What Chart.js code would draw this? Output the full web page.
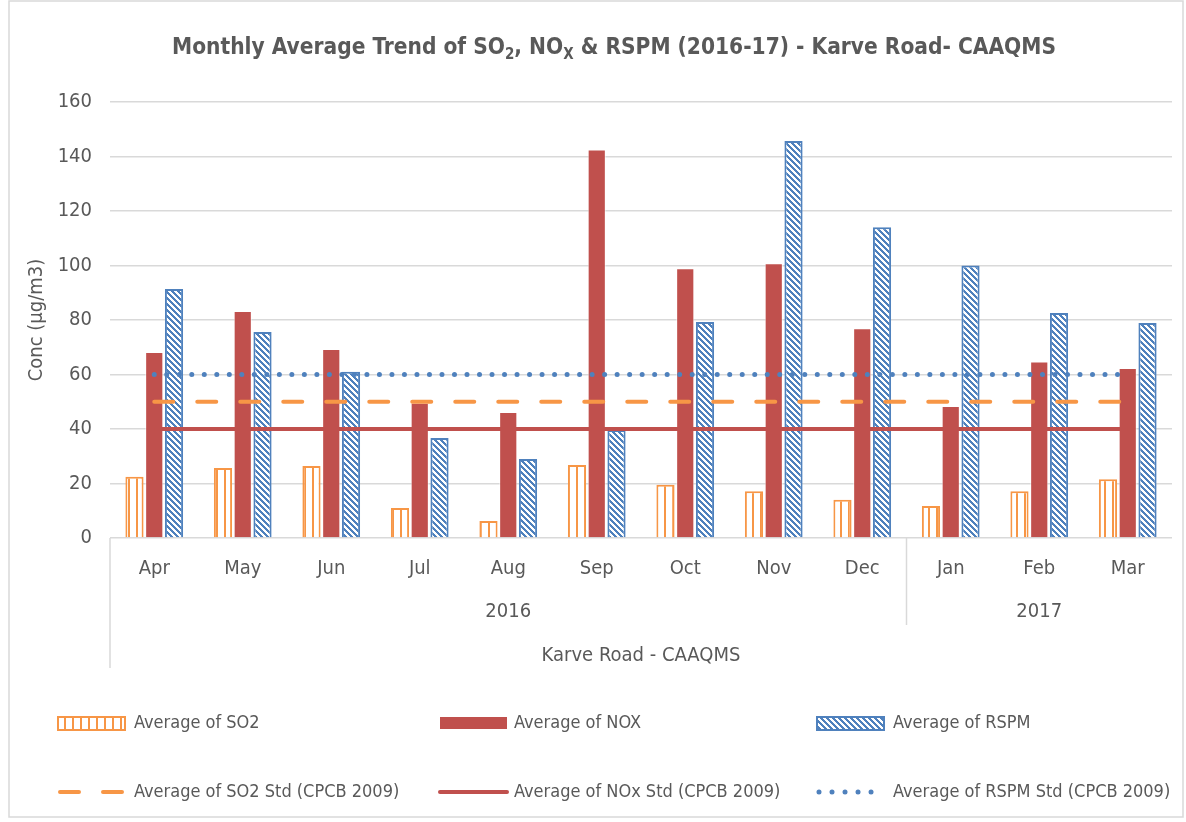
<!DOCTYPE html>
<html lang="en">
<head>
<meta charset="UTF-8">
<title>Monthly Average Trend - Karve Road CAAQMS</title>
<script src="https://cdn.jsdelivr.net/npm/chart.js"></script>
<style>
    body { margin: 0; background: #fff; }
    #chart { display: block; }
</style>
</head>
<body>
<canvas id="chart" width="1186" height="822"></canvas>
<script>
    // monthly averages, µg/m3
    const months = ['Apr', 'May', 'Jun', 'Jul', 'Aug', 'Sep', 'Oct', 'Nov', 'Dec', 'Jan', 'Feb', 'Mar'];
    const yearLabels = ['2016', '2017'];
    const yearSpans = [9, 3];
    const stationLabel = 'Karve Road - CAAQMS';

    const so2 = [22.5, 25.7, 26.4, 11, 6.2, 26.8, 19.5, 17.2, 14, 11.7, 17.2, 21.6];
    const nox = [68.3, 83.3, 69.4, 49.6, 46.2, 142.6, 99, 100.8, 77, 48.4, 64.8, 62.4];
    const rspm = [91.4, 75.6, 61, 36.7, 29, 39.6, 79.3, 145.7, 114, 100, 82.6, 78.9];

    // CPCB 2009 standards
    const so2Std = [50, 50, 50, 50, 50, 50, 50, 50, 50, 50, 50, 50];
    const noxStd = [40, 40, 40, 40, 40, 40, 40, 40, 40, 40, 40, 40];
    const rspmStd = [60, 60, 60, 60, 60, 60, 60, 60, 60, 60, 60, 60];

    const yTicks = [0, 20, 40, 60, 80, 100, 120, 140, 160];

    const ORANGE = '#f79646';
    const RED = '#c0504d';
    const BLUE = '#4f81bd';
    const TEXT = '#595959';
    const GRID = '#d9d9d9';
    const FONT = '"Liberation Sans Narrow", "DejaVu Sans Condensed", "Arial Narrow", sans-serif';

    // vertical stripes for SO2
    function stripePattern() {
        const c = document.createElement('canvas');
        c.width = 8; c.height = 8;
        const g = c.getContext('2d');
        g.fillStyle = '#fff';
        g.fillRect(0, 0, 8, 8);
        g.fillStyle = ORANGE;
        g.fillRect(0, 0, 2, 8);
        return g.createPattern(c, 'repeat');
    }

    // downward diagonal for RSPM
    function diagPattern() {
        const n = 6;
        const c = document.createElement('canvas');
        c.width = n; c.height = n;
        const g = c.getContext('2d');
        const img = g.createImageData(n, n);
        const rgb = [0x4f, 0x81, 0xbd];
        for (let y = 0; y < n; y++) {
            for (let x = 0; x < n; x++) {
                const i = (y * n + x) * 4;
                const on = ((x - y + 2 * n) % n) < 3;
                img.data[i] = on ? rgb[0] : 255;
                img.data[i + 1] = on ? rgb[1] : 255;
                img.data[i + 2] = on ? rgb[2] : 255;
                img.data[i + 3] = 255;
            }
        }
        g.putImageData(img, 0, 0);
        return g.createPattern(c, 'repeat');
    }

    const so2Fill = stripePattern();
    const rspmFill = diagPattern();

    function drawTitle(ctx) {
        const parts = [
            ['Monthly Average Trend of SO', false],
            ['2', true],
            [', NO', false],
            ['X', true],
            [' & RSPM (2016-17) - Karve Road- CAAQMS', false]
        ];
        const big = 'bold 22.5px ' + FONT;
        const small = 'bold 15px ' + FONT;
        let total = 0;
        parts.forEach(p => {
            ctx.font = p[1] ? small : big;
            total += ctx.measureText(p[0]).width;
        });
        let x = 614 - total / 2;
        const y = 54;
        ctx.fillStyle = TEXT;
        ctx.textAlign = 'left';
        ctx.textBaseline = 'alphabetic';
        parts.forEach(p => {
            ctx.font = p[1] ? small : big;
            ctx.fillText(p[0], x, p[1] ? y + 5 : y);
            x += ctx.measureText(p[0]).width;
        });
    }

    function drawCategoryAxis(chart) {
        const ctx = chart.ctx;
        const area = chart.chartArea;
        const xs = chart.scales.x;
        const step = (area.right - area.left) / months.length;

        ctx.font = '20px ' + FONT;
        ctx.fillStyle = TEXT;
        ctx.textAlign = 'center';
        ctx.textBaseline = 'middle';
        months.forEach((m, i) => ctx.fillText(m, xs.getPixelForValue(i), 569));

        ctx.strokeStyle = GRID;
        ctx.lineWidth = 1.5;
        // outer left edge of the multi-level axis
        ctx.beginPath();
        ctx.moveTo(area.left, area.bottom);
        ctx.lineTo(area.left, 668);
        ctx.stroke();

        let start = 0;
        yearLabels.forEach((lab, k) => {
            const x0 = area.left + start * step;
            const x1 = area.left + (start + yearSpans[k]) * step;
            ctx.fillText(lab, (x0 + x1) / 2, 612);
            if (k < yearLabels.length - 1) {
                ctx.beginPath();
                ctx.moveTo(x1, area.bottom);
                ctx.lineTo(x1, 625);
                ctx.stroke();
            }
            start += yearSpans[k];
        });

        ctx.fillText(stationLabel, (area.left + area.right) / 2, 656);
    }

    function drawLegend(ctx) {
        const rowA = 723, rowB = 792;
        const cols = [58, 440, 817];
        const w = 67;

        // bar swatches
        ctx.lineWidth = 2;
        ctx.fillStyle = so2Fill;
        ctx.fillRect(cols[0], rowA - 6, w, 13);
        ctx.strokeStyle = ORANGE;
        ctx.strokeRect(cols[0], rowA - 6, w, 13);

        ctx.fillStyle = RED;
        ctx.fillRect(cols[1], rowA - 6, w, 12);

        ctx.fillStyle = rspmFill;
        ctx.fillRect(cols[2], rowA - 6, w, 13);
        ctx.strokeStyle = BLUE;
        ctx.strokeRect(cols[2], rowA - 6, w, 13);

        // line swatches
        ctx.lineCap = 'round';
        ctx.lineWidth = 4;
        ctx.strokeStyle = ORANGE;
        ctx.setLineDash([19, 24]);
        ctx.beginPath();
        ctx.moveTo(cols[0] + 2, rowB);
        ctx.lineTo(cols[0] + w, rowB);
        ctx.stroke();

        ctx.setLineDash([]);
        ctx.strokeStyle = RED;
        ctx.beginPath();
        ctx.moveTo(cols[1], rowB);
        ctx.lineTo(cols[1] + w, rowB);
        ctx.stroke();

        ctx.lineWidth = 5;
        ctx.strokeStyle = BLUE;
        ctx.setLineDash([0.01, 13]);
        ctx.beginPath();
        ctx.moveTo(cols[2] + 2, rowB);
        ctx.lineTo(cols[2] + w, rowB);
        ctx.stroke();
        ctx.setLineDash([]);
        ctx.lineCap = 'butt';

        ctx.font = '18px ' + FONT;
        ctx.fillStyle = TEXT;
        ctx.textAlign = 'left';
        ctx.textBaseline = 'middle';
        const txtX = [134, 514, 893];
        ctx.fillText('Average of SO2', txtX[0], rowA);
        ctx.fillText('Average of NOX', txtX[1], rowA);
        ctx.fillText('Average of RSPM', txtX[2], rowA);
        ctx.fillText('Average of SO2 Std (CPCB 2009)', txtX[0], rowB);
        ctx.fillText('Average of NOx Std (CPCB 2009)', txtX[1], rowB);
        ctx.fillText('Average of RSPM Std (CPCB 2009)', txtX[2], rowB);
    }

    // title, y title, multi-level axis, legend and frame
    const decorations = {
        id: 'decorations',
        afterDraw(chart) {
            const ctx = chart.ctx;
            ctx.save();
            drawTitle(ctx);

            ctx.save();
            ctx.translate(37, 320);
            ctx.rotate(-Math.PI / 2);
            ctx.font = '20px ' + FONT;
            ctx.fillStyle = TEXT;
            ctx.textAlign = 'center';
            ctx.textBaseline = 'middle';
            ctx.fillText('Conc (µg/m3)', 0, 0);
            ctx.restore();

            drawCategoryAxis(chart);
            drawLegend(ctx);

            ctx.strokeStyle = GRID;
            ctx.lineWidth = 1.5;
            ctx.strokeRect(9, 1, 1174, 816);
            ctx.restore();
        }
    };

    const ctx = document.getElementById('chart').getContext('2d');
    new Chart(ctx, {
        type: 'bar',
        data: {
            labels: months,
            datasets: [
                {
                    label: 'Average of SO2',
                    data: so2,
                    backgroundColor: so2Fill,
                    borderColor: ORANGE,
                    borderWidth: 2,
                    order: 1
                },
                {
                    label: 'Average of NOX',
                    data: nox,
                    backgroundColor: RED,
                    borderColor: 'rgba(255,255,255,0.6)',
                    borderWidth: 1,
                    order: 1
                },
                {
                    label: 'Average of RSPM',
                    data: rspm,
                    backgroundColor: rspmFill,
                    borderColor: BLUE,
                    borderWidth: 2,
                    order: 1
                },
                {
                    type: 'line',
                    label: 'Average of SO2 Std (CPCB 2009)',
                    data: so2Std,
                    borderColor: ORANGE,
                    borderWidth: 4,
                    borderDash: [19, 24],
                    borderCapStyle: 'round',
                    pointRadius: 0,
                    fill: false,
                    order: 0
                },
                {
                    type: 'line',
                    label: 'Average of NOx Std (CPCB 2009)',
                    data: noxStd,
                    borderColor: RED,
                    borderWidth: 4,
                    pointRadius: 0,
                    fill: false,
                    order: 0
                },
                {
                    type: 'line',
                    label: 'Average of RSPM Std (CPCB 2009)',
                    data: rspmStd,
                    borderColor: BLUE,
                    borderWidth: 5,
                    borderDash: [0.01, 12.5],
                    borderCapStyle: 'round',
                    pointRadius: 0,
                    fill: false,
                    order: 0
                }
            ]
        },
        options: {
            responsive: false,
            animation: false,
            layout: { padding: { top: 102, bottom: 284, left: 0, right: 14 } },
            datasets: {
                bar: { categoryPercentage: 0.67, barPercentage: 0.92 }
            },
            plugins: {
                legend: { display: false },
                title: { display: false },
                tooltip: { enabled: false }
            },
            scales: {
                x: {
                    display: false,
                    offset: true
                },
                y: {
                    min: 0,
                    max: 160,
                    afterFit: s => { s.width = 110; },
                    afterBuildTicks: s => { s.ticks = yTicks.map(v => ({ value: v })); },
                    border: { display: false },
                    grid: { color: GRID, lineWidth: 1.5, drawTicks: false },
                    ticks: {
                        padding: 18,
                        color: TEXT,
                        font: { family: FONT, size: 20 }
                    }
                }
            }
        },
        plugins: [decorations]
    });
</script>
</body>
</html>
